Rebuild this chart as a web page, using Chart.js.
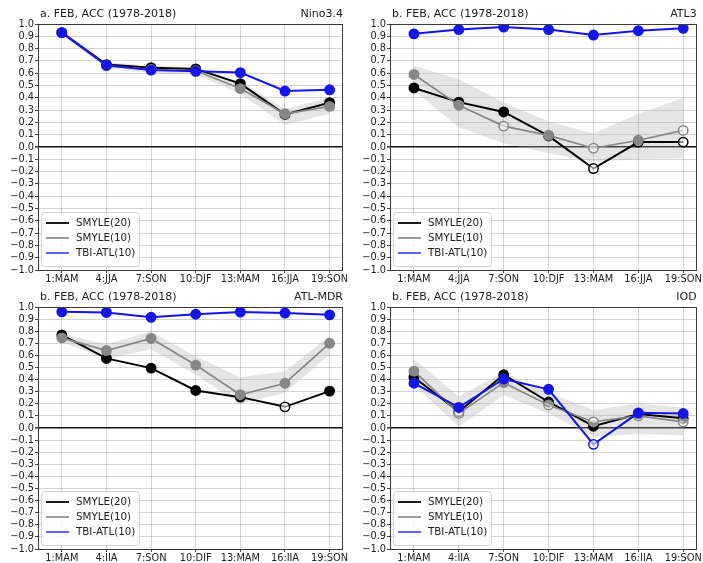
<!DOCTYPE html>
<html><head><meta charset="utf-8">
<script src="https://cdn.jsdelivr.net/npm/chart.js@4.4.0/dist/chart.umd.min.js"></script>
<style>
html,body{margin:0;padding:0;background:#fff;width:703px;height:563px;overflow:hidden;}
canvas{position:absolute;}
</style></head><body>
<canvas id="c0" width="352" height="290" style="left:0px;top:0px"></canvas>
<canvas id="c1" width="351" height="290" style="left:352px;top:0px"></canvas>
<canvas id="c2" width="352" height="278" style="left:0px;top:283px"></canvas>
<canvas id="c3" width="351" height="278" style="left:352px;top:283px"></canvas>
<script>
// ---------- data ----------
const leadMonths = [1, 4, 7, 10, 13, 16, 19];
const leadLabels = ['1:MAM', '4:JJA', '7:SON', '10:DJF', '13:MAM', '16:JJA', '19:SON'];
const yTickValues = [-1.0,-0.9,-0.8,-0.7,-0.6,-0.5,-0.4,-0.3,-0.2,-0.1,0.0,0.1,0.2,0.3,0.4,0.5,0.6,0.7,0.8,0.9,1.0];
const seriesNames = ['SMYLE(20)', 'SMYLE(10)', 'TBI-ATL(10)'];
const panelTitles = ['a. FEB, ACC (1978-2018)', 'b. FEB, ACC (1978-2018)', 'b. FEB, ACC (1978-2018)', 'b. FEB, ACC (1978-2018)'];
const regionNames = ['Nino3.4', 'ATL3', 'ATL-MDR', 'IOD'];

const nino34_smyle20 = [0.93, 0.67, 0.645, 0.635, 0.515, 0.265, 0.36];
const nino34_smyle10 = [0.93, 0.66, 0.63, 0.62, 0.475, 0.27, 0.33];
const nino34_tbi     = [0.93, 0.665, 0.625, 0.615, 0.605, 0.455, 0.465];
const nino34_lo      = [0.91, 0.64, 0.60, 0.59, 0.43, 0.18, 0.27];
const nino34_hi      = [0.95, 0.69, 0.66, 0.65, 0.53, 0.31, 0.40];
const nino34_sig20   = [1, 1, 1, 1, 1, 1, 1];
const nino34_sig10   = [1, 1, 1, 1, 1, 1, 1];
const nino34_sigTbi  = [1, 1, 1, 1, 1, 1, 1];

const atl3_smyle20 = [0.48, 0.365, 0.285, 0.09, -0.175, 0.04, 0.04];
const atl3_smyle10 = [0.59, 0.34, 0.17, 0.095, -0.01, 0.055, 0.135];
const atl3_tbi     = [0.92, 0.955, 0.975, 0.955, 0.91, 0.945, 0.965];
const atl3_lo      = [0.46, 0.16, 0.03, -0.05, -0.12, -0.10, -0.09];
const atl3_hi      = [0.66, 0.55, 0.36, 0.21, 0.11, 0.27, 0.40];
const atl3_sig20   = [1, 1, 1, 1, 0, 0, 0];
const atl3_sig10   = [1, 1, 0, 1, 0, 1, 0];
const atl3_sigTbi  = [1, 1, 1, 1, 1, 1, 1];

const mdr_smyle20 = [0.77, 0.575, 0.495, 0.31, 0.255, 0.175, 0.305];
const mdr_smyle10 = [0.745, 0.64, 0.74, 0.52, 0.275, 0.37, 0.70];
const mdr_tbi     = [0.96, 0.955, 0.915, 0.94, 0.958, 0.95, 0.935];
const mdr_lo      = [0.71, 0.57, 0.65, 0.44, 0.20, 0.29, 0.61];
const mdr_hi      = [0.78, 0.69, 0.80, 0.59, 0.42, 0.47, 0.76];
const mdr_sig20   = [1, 1, 1, 1, 1, 0, 1];
const mdr_sig10   = [1, 1, 1, 1, 1, 1, 1];
const mdr_sigTbi  = [1, 1, 1, 1, 1, 1, 1];

const iod_smyle20 = [0.42, 0.135, 0.44, 0.215, 0.015, 0.115, 0.08];
const iod_smyle10 = [0.47, 0.12, 0.375, 0.19, 0.05, 0.10, 0.05];
const iod_tbi     = [0.37, 0.17, 0.405, 0.32, -0.135, 0.125, 0.12];
const iod_lo      = [0.36, 0.01, 0.27, 0.12, -0.07, -0.05, -0.06];
const iod_hi      = [0.57, 0.26, 0.46, 0.29, 0.15, 0.20, 0.17];
const iod_sig20   = [1, 0, 1, 1, 1, 1, 1];
const iod_sig10   = [1, 0, 1, 0, 0, 0, 0];
const iod_sigTbi  = [1, 1, 1, 1, 0, 1, 1];

// ---------- layout / style ----------
const FONT = "'DejaVu Sans', sans-serif";
const panelLayout = [
  {id: 'c0', padRight: 9, xHeight: 20},
  {id: 'c1', padRight: 6, xHeight: 20},
  {id: 'c2', padRight: 9, xHeight: 12},
  {id: 'c3', padRight: 6, xHeight: 12}
];
const panelData = [
  {s20: nino34_smyle20, s10: nino34_smyle10, tbi: nino34_tbi, lo: nino34_lo, hi: nino34_hi, g20: nino34_sig20, g10: nino34_sig10, gT: nino34_sigTbi},
  {s20: atl3_smyle20, s10: atl3_smyle10, tbi: atl3_tbi, lo: atl3_lo, hi: atl3_hi, g20: atl3_sig20, g10: atl3_sig10, gT: atl3_sigTbi},
  {s20: mdr_smyle20, s10: mdr_smyle10, tbi: mdr_tbi, lo: mdr_lo, hi: mdr_hi, g20: mdr_sig20, g10: mdr_sig10, gT: mdr_sigTbi},
  {s20: iod_smyle20, s10: iod_smyle10, tbi: iod_tbi, lo: iod_lo, hi: iod_hi, g20: iod_sig20, g10: iod_sig10, gT: iod_sigTbi}
];
const COL_BLACK = '#000000';
const COL_GRAY = '#878787';
const COL_BLUE = 'rgb(20,20,235)';
const HOLLOW = 'rgba(255,255,255,0.55)';

function pts(vals) { return leadMonths.map((m, i) => ({x: m, y: vals[i]})); }

const titlePlugin = {
  id: 'panelTitles',
  afterDraw(chart, args, opts) {
    const {ctx, chartArea: a} = chart;
    ctx.save();
    ctx.fillStyle = '#222';
    ctx.font = '11px ' + FONT;
    ctx.textBaseline = 'middle';
    ctx.textAlign = 'left';
    ctx.fillText(opts.left, a.left + 2, a.top - 10);
    ctx.textAlign = 'right';
    ctx.fillText(opts.right, a.right, a.top - 10);
    ctx.restore();
  }
};
const framePlugin = {
  id: 'frame',
  afterDatasetsDraw(chart) {
    const {ctx, chartArea: a} = chart;
    ctx.save();
    ctx.strokeStyle = '#3a3a3a';
    ctx.lineWidth = 1;
    ctx.strokeRect(Math.round(a.left) + 0.5, Math.round(a.top) + 0.5, Math.round(a.right - a.left) - 1, Math.round(a.bottom - a.top));
    ctx.restore();
  }
};
const legendPlugin = {
  id: 'innerLegend',
  afterDraw(chart) {
    const {ctx, chartArea: a} = chart;
    const items = chart.data.datasets.filter(d => d.inLegend);
    const bx = a.left + 3, bw = 98, bh = 54, by = a.bottom - 4 - bh;
    ctx.save();
    ctx.fillStyle = 'rgba(255,255,255,0.85)';
    ctx.strokeStyle = '#d0d0d0';
    ctx.lineWidth = 1;
    ctx.beginPath();
    if (ctx.roundRect) ctx.roundRect(bx + 0.5, by + 0.5, bw, bh, 3); else ctx.rect(bx + 0.5, by + 0.5, bw, bh);
    ctx.fill(); ctx.stroke();
    ctx.font = '10.3px ' + FONT;
    ctx.textBaseline = 'middle';
    ctx.textAlign = 'left';
    items.forEach((d, i) => {
      const y = by + 11 + i * 15;
      ctx.strokeStyle = d.legendColor;
      ctx.lineWidth = 2;
      ctx.beginPath(); ctx.moveTo(bx + 5, y); ctx.lineTo(bx + 28, y); ctx.stroke();
      ctx.fillStyle = '#222';
      ctx.fillText(d.label, bx + 35, y + 0.5);
    });
    ctx.restore();
  }
};

panelLayout.forEach((L, p) => {
  const D = panelData[p];
  const series = [
    {vals: D.s20, sig: D.g20, color: COL_BLACK, legend: 'rgba(0,0,0,0.9)', width: 2, order: 3},
    {vals: D.s10, sig: D.g10, color: COL_GRAY, legend: 'rgba(130,130,130,0.8)', width: 1.7, order: 2},
    {vals: D.tbi, sig: D.gT, color: COL_BLUE, legend: 'rgba(60,60,240,0.8)', width: 2, order: 1}
  ];
  const datasets = [
    {label: 'spread_hi', data: pts(D.hi), borderWidth: 0, pointRadius: 0, fill: '+1',
     backgroundColor: 'rgba(175,175,175,0.33)', borderColor: 'rgba(0,0,0,0)', order: 10, inLegend: false},
    {label: 'spread_lo', data: pts(D.lo), borderWidth: 0, pointRadius: 0, fill: false,
     borderColor: 'rgba(0,0,0,0)', order: 11, inLegend: false}
  ];
  series.forEach((s, k) => {
    datasets.push({
      label: seriesNames[k], data: pts(s.vals), borderColor: s.color, borderWidth: s.width,
      pointRadius: 4.7, pointBorderWidth: 1.5, pointBorderColor: s.color,
      pointBackgroundColor: s.sig.map(g => g ? s.color : HOLLOW),
      fill: false, tension: 0, order: s.order, inLegend: true, legendColor: s.legend
    });
  });
  new Chart(document.getElementById(L.id), {
    type: 'line',
    data: {datasets},
    plugins: [titlePlugin, framePlugin, legendPlugin],
    options: {
      responsive: false, animation: false, devicePixelRatio: 1,
      layout: {padding: {top: 24, left: 0, right: L.padRight, bottom: 0}},
      plugins: {
        legend: {display: false}, tooltip: {enabled: false},
        panelTitles: {left: panelTitles[p], right: regionNames[p]}
      },
      scales: {
        x: {
          type: 'linear', min: -0.6, max: 19.9,
          afterBuildTicks: sc => { sc.ticks = leadMonths.map(v => ({value: v})); },
          afterFit: sc => { sc.height = L.xHeight; },
          ticks: {autoSkip: false, maxRotation: 0, minRotation: 0, padding: 1, color: '#222',
                  font: {family: FONT, size: 9.8}, callback: (v, i) => leadLabels[i]},
          grid: {color: 'rgba(0,0,0,0.17)', lineWidth: 1, tickLength: 3, tickColor: '#444', drawOnChartArea: true},
          border: {display: false}
        },
        y: {
          type: 'linear', min: -1, max: 1,
          afterBuildTicks: sc => { sc.ticks = yTickValues.map(v => ({value: v})); },
          afterFit: sc => { sc.width = 38; },
          ticks: {autoSkip: false, padding: 1, color: '#222', font: {family: FONT, size: 9.8},
                  callback: v => (v < -0.0001 ? '\u2212' : '') + Math.abs(v).toFixed(1)},
          grid: {
            color: c => Math.abs(c.tick.value) < 1e-6 ? '#111' : 'rgba(0,0,0,0.17)',
            lineWidth: c => Math.abs(c.tick.value) < 1e-6 ? 1.6 : 1,
            tickLength: 3, tickColor: '#444'
          },
          border: {display: false}
        }
      }
    }
  });
});
</script>
</body></html>
